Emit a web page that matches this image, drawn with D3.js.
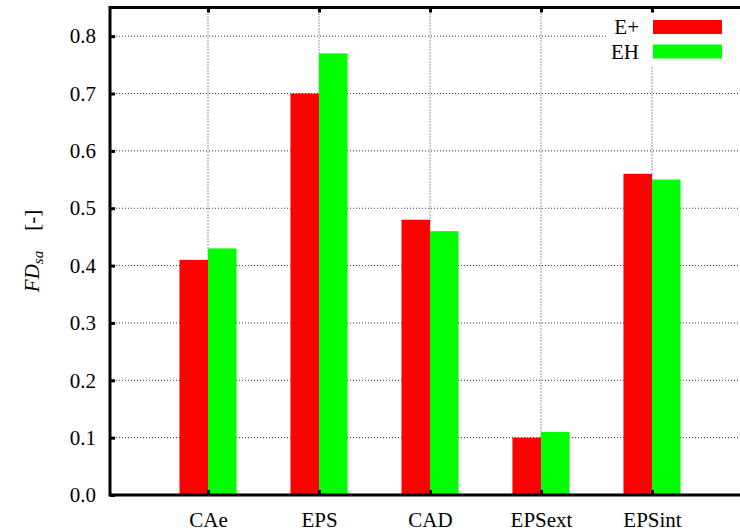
<!DOCTYPE html>
<html>
<head>
<meta charset="utf-8">
<script src="https://cdn.jsdelivr.net/npm/d3@7/dist/d3.min.js"></script>
<style>
  html, body { margin: 0; padding: 0; background: #fff; }
  svg { display: block; }
  svg text { font-family: "Liberation Serif", "Times New Roman", serif !important; fill: #000; }
</style>
</head>
<body>
<svg id="chart" width="740" height="531"></svg>
<script>
// Categories and the two series (FD_sa values)
const categories = ["CAe", "EPS", "CAD", "EPSext", "EPSint"];
const seriesNames = ["E+", "EH"];
const ePlus = [0.41, 0.70, 0.48, 0.10, 0.56];
const eh    = [0.43, 0.77, 0.46, 0.11, 0.55];
const yTicks = [0.0, 0.1, 0.2, 0.3, 0.4, 0.5, 0.6, 0.7, 0.8];
const colors = ["#ff0000", "#00ff00"];

(function draw() {
  const svg = d3.select("#chart");
  const pLeft = 110, pTop = 7.5, pBottom = 495, pRight = 740;
  const fs = 21;

  // category positions: index 1..5 along x
  const catPos = categories.map((c, i) => i + 1);
  const x = d3.scaleLinear().domain([1, 5]).range([208, 652]);
  const y = d3.scaleLinear().domain([0, 0.85]).range([pBottom, pTop]);
  const barW = x(1.257) - x(1);

  const g = svg.append("g");

  // dotted grid
  g.append("g").selectAll("line").data(yTicks.slice(1)).join("line")
    .attr("x1", pLeft).attr("x2", pRight)
    .attr("y1", d => y(d)).attr("y2", d => y(d))
    .attr("stroke", "#000").attr("stroke-width", 0.8)
    .attr("stroke-dasharray", "1,2");
  g.append("g").selectAll("line").data(catPos).join("line")
    .attr("x1", d => x(d)).attr("x2", d => x(d))
    .attr("y1", pTop).attr("y2", pBottom)
    .attr("stroke", "#000").attr("stroke-width", 0.8)
    .attr("stroke-dasharray", "1,2");

  // bars
  const series = [ePlus, eh];
  series.forEach((vals, s) => {
    g.append("g").selectAll("rect").data(vals).join("rect")
      .attr("x", (d, i) => x(catPos[i]) - barW + s * barW)
      .attr("width", barW)
      .attr("y", d => y(d))
      .attr("height", d => y(0) - y(d))
      .attr("fill", colors[s]);
  });

  // legend box (covers grid)
  const lg = g.append("g");
  lg.append("rect").attr("x", 608).attr("y", pTop + 2).attr("width", 140).attr("height", 56).attr("fill", "#fff");
  seriesNames.forEach((n, i) => {
    const cy = 27 + i * 24.5;
    lg.append("rect").attr("x", 653).attr("y", cy - 7).attr("width", 69).attr("height", 14).attr("fill", colors[i]);
    lg.append("text").attr("x", 639).attr("y", cy + 7).attr("text-anchor", "end")
      .style("font-size", fs + "px").text(n);
  });

  // frame
  g.append("line").attr("x1", pLeft).attr("x2", pRight).attr("y1", pTop).attr("y2", pTop)
    .attr("stroke", "#000").attr("stroke-width", 3);
  g.append("line").attr("x1", pLeft).attr("x2", pRight).attr("y1", pBottom).attr("y2", pBottom)
    .attr("stroke", "#000").attr("stroke-width", 3);
  g.append("line").attr("x1", pLeft).attr("x2", pLeft).attr("y1", pTop - 1.5).attr("y2", pBottom + 1.5)
    .attr("stroke", "#000").attr("stroke-width", 3);

  // y axis ticks and labels
  const yAxis = d3.axisLeft(y).tickValues(yTicks).tickFormat(d3.format(".1f")).tickSize(-5).tickPadding(14);
  const ya = g.append("g").attr("transform", `translate(${pLeft},0)`).call(yAxis);
  ya.attr("font-family", null).attr("font-size", null);
  ya.select(".domain").remove();
  ya.selectAll(".tick line").attr("stroke", "#000").attr("stroke-width", 3);
  ya.selectAll(".tick text").style("font-size", fs + "px");

  // x axis labels and ticks (bottom and mirrored top)
  const xAxis = d3.axisBottom(x).tickValues(catPos).tickFormat((d, i) => categories[i]).tickSize(-5).tickPadding(17);
  const xa = g.append("g").attr("transform", `translate(0,${pBottom})`).call(xAxis);
  xa.attr("font-family", null).attr("font-size", null);
  xa.select(".domain").remove();
  xa.selectAll(".tick line").attr("stroke", "#000").attr("stroke-width", 3);
  xa.selectAll(".tick text").style("font-size", fs + "px");
  const xt = g.append("g").attr("transform", `translate(0,${pTop})`)
    .call(d3.axisTop(x).tickValues(catPos).tickFormat("").tickSize(-5));
  xt.select(".domain").remove();
  xt.selectAll(".tick line").attr("stroke", "#000").attr("stroke-width", 3);

  // y axis title
  const yl = svg.append("text").attr("transform", "translate(39,251) rotate(-90)")
    .attr("text-anchor", "middle").style("font-size", fs + "px");
  yl.append("tspan").attr("font-style", "italic").text("FD");
  yl.append("tspan").attr("font-style", "italic").style("font-size", "15px").attr("dy", 4).text("sa");
  yl.append("tspan").attr("dy", -4).attr("dx", 20).text("[-]");
})();
</script>
</body>
</html>
